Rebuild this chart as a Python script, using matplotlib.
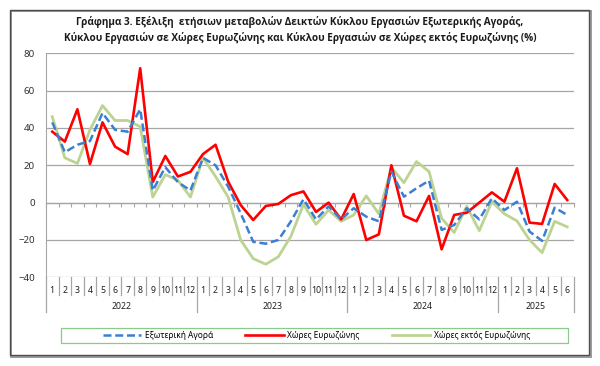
import numpy as np
import matplotlib
matplotlib.use('Agg')
import matplotlib.pyplot as plt
import matplotlib.transforms as mtransforms
from matplotlib.patches import Rectangle

plt.rcParams['font.family'] = ['Noto Sans', 'DejaVu Sans']

# --- data ---
months = [str(m) for m in range(1, 13)] * 3 + [str(m) for m in range(1, 7)]
years = ['2022', '2023', '2024', '2025']
year_len = [12, 12, 12, 6]

extern = [43, 27, 31, 33, 48, 39, 38, 50, 6.5, 19, 11, 6.5,
          24, 20, 8.6, -5.7, -21, -22, -20, -10, 1.8, -9, -2, -9,
          -3, -7.5, -10, 16.6, 3.2, 7.7, 11.8, -14.6, -12, -3, -9, 2.3,
          -4, 0.5, -15.5, -20.5, -2.7, -6.6]
euro = [38, 32.7, 50, 20.7, 43, 30, 26, 72, 11, 25, 14, 16.5,
        26, 31, 11.3, -1.3, -9.3, -1.8, -0.7, 4, 6, -5, 0, -9,
        4.6, -20, -17, 20, -7, -10, 3.6, -25, -6.6, -5.4, 0, 5.5,
        0.5, 18.4, -10.7, -11.4, 10, 1.4]
non_euro = [46, 24, 21, 39, 52, 44, 44, 40.7, 3, 15, 12, 3,
            24, 14, 3, -20, -30, -33, -29, -18, -1, -11.6, -4, -10,
            -6.6, 3.6, -6, 18.8, 10.7, 22, 16.6, -8.4, -16, -2, -15, 0.5,
            -6, -9.8, -20, -26.8, -10, -13]

title = ('Γράφημα 3. Εξέλιξη  ετήσιων μεταβολών Δεικτών Κύκλου Εργασιών Εξωτερικής Αγοράς,\n'
         'Κύκλου Εργασιών σε Χώρες Ευρωζώνης και Κύκλου Εργασιών σε Χώρες εκτός Ευρωζώνης (%)')
names = ['Εξωτερική Αγορά', 'Χώρες Ευρωζώνης', 'Χώρες εκτός Ευρωζώνης']

W, H = 600, 366
fig = plt.figure(figsize=(W / 100, H / 100), dpi=100)
ax = fig.add_axes([46 / W, 1 - 277.3 / H, 527.5 / W, 224 / H])

x = np.arange(len(months))
grid_c = '#a6a6a6'

h_ext, = ax.plot(x, extern, color='#3a7fd4', lw=1.8, ls=(0, (3.2, 1.5)), zorder=4)
h_eur, = ax.plot(x, euro, color='#ff0000', lw=1.9, zorder=3)
h_non, = ax.plot(x, non_euro, color='#bcd392', lw=2.0, zorder=2)

ax.set_xlim(-0.5, len(months) - 0.5)
ax.set_ylim(-40, 80)
ax.set_yticks(np.arange(-40, 81, 20))
ax.yaxis.grid(True, color=grid_c, lw=0.9)
ax.set_axisbelow(True)
ax.tick_params(axis='y', length=0, pad=8, labelsize=7, labelcolor='#303030')
for s in ['top', 'right', 'bottom']:
    ax.spines[s].set_visible(False)
ax.spines['left'].set_color(grid_c)

# month labels
ax.set_xticks(x)
ax.set_xticklabels(months, fontsize=6.3, color='#202020')
ax.tick_params(axis='x', length=0, pad=6)

# zero axis with boundary ticks
sec = ax.secondary_xaxis(1 / 3)
sec.set_xticks(np.arange(-0.5, len(months), 1))
sec.set_xticklabels([])
sec.tick_params(axis='x', direction='out', length=3, color=grid_c)
sec.spines['bottom'].set_color(grid_c)
sec.spines['bottom'].set_linewidth(0.9)

# category table separators
trans = mtransforms.blended_transform_factory(ax.transData, ax.transAxes)
bounds = np.cumsum([0] + year_len) - 0.5
for b in np.arange(-0.5, len(months), 1):
    y0 = -0.155 if np.isclose(bounds, b).any() else -0.079
    ax.plot([b, b], [0, y0], transform=trans, color=grid_c, lw=0.9, clip_on=False)
for i, yr in enumerate(years):
    ax.text((bounds[i] + bounds[i + 1]) / 2, -0.132, yr, transform=trans,
            ha='center', va='center', fontsize=6.3, color='#202020')

# title
fig.text(0.5, 1 - 30 / H, title, ha='center', va='center', fontsize=7.2,
         family=['Open Sans', 'DejaVu Sans'], fontweight='bold',
         linespacing=1.45, color='#1a1a1a')

# legend
fig.patches.append(Rectangle((60.7 / W, 1 - 343 / H), 507 / W, 15 / H,
                             transform=fig.transFigure, fill=False,
                             edgecolor='#8cc98c', lw=0.9))
fig.legend([h_ext, h_eur, h_non], names, loc='center', ncol=3, mode='expand',
           bbox_to_anchor=(103 / W, 1 - 343 / H, 427 / W, 15 / H),
           frameon=False, fontsize=6.0, handlelength=4.6, handletextpad=0.45,
           borderpad=0, borderaxespad=0)

# outer frame with shadow
fig.patches.append(Rectangle((11 / W, 1 - 357 / H), 580 / W, 346 / H,
                             transform=fig.transFigure, fill=False,
                             edgecolor='#9a9a9a', lw=1.4))
fig.patches.append(Rectangle((9.5 / W, 1 - 355 / H), 579.5 / W, 345.5 / H,
                             transform=fig.transFigure, facecolor='none',
                             edgecolor='#4d4d4d', lw=1.0))

fig.savefig('out.png', dpi=100)
